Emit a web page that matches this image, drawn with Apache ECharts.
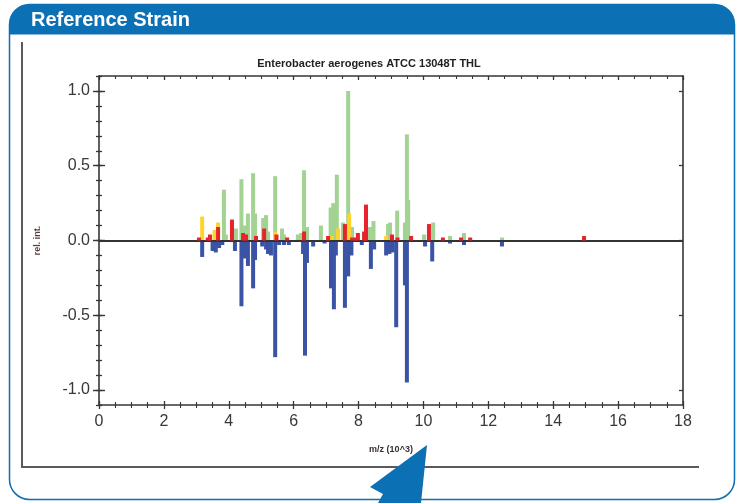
<!DOCTYPE html>
<html>
<head>
<meta charset="utf-8">
<script src="https://cdn.jsdelivr.net/npm/echarts@6/dist/echarts.min.js"></script>
<style>
html,body{margin:0;padding:0;background:#fff;}
#chart{width:737px;height:503px;}
</style>
</head>
<body>
<div id="chart"></div>
<script>
// ---- data: [m/z (x10^3), relative intensity] ----
const chartTitle = 'Enterobacter aerogenes ATCC 13048T THL';
const xTicks = [0, 2, 4, 6, 8, 10, 12, 14, 16, 18];
const yTicks = [-1.0, -0.5, 0.0, 0.5, 1.0];

const greenPeaks = [
  [3.85,0.34],[3.91,0.04],[4.22,0.08],[4.39,0.41],[4.50,0.10],[4.59,0.18],[4.75,0.45],[4.81,0.18],
  [5.06,0.15],[5.15,0.17],[5.21,0.06],[5.43,0.43],[5.64,0.08],[5.70,0.04],[6.13,0.04],[6.23,0.05],
  [6.32,0.47],[6.41,0.09],[6.84,0.10],[7.14,0.22],[7.22,0.25],[7.33,0.44],[7.52,0.12],[7.68,1.00],
  [7.80,0.09],[8.35,0.09],[8.46,0.13],[8.91,0.11],[8.97,0.12],[9.19,0.20],[9.43,0.12],[9.49,0.71],
  [9.53,0.27],[10.02,0.04],[10.30,0.12],[10.82,0.03],[11.25,0.05],[12.42,0.02]
];
const yellowPeaks = [
  [3.18,0.16],[3.56,0.07],[3.67,0.12],[5.43,0.06],[7.17,0.03],[7.37,0.08],[7.71,0.18],[8.85,0.03]
];
const redPeaks = [
  [3.08,0.02],[3.35,0.02],[3.42,0.04],[3.67,0.09],[4.10,0.14],[4.44,0.05],[4.53,0.04],[4.84,0.03],
  [5.09,0.08],[5.47,0.04],[5.80,0.02],[6.32,0.06],[7.06,0.03],[7.58,0.11],[7.80,0.02],[7.90,0.02],
  [7.98,0.05],[8.17,0.06],[8.23,0.24],[9.03,0.04],[9.20,0.02],[9.62,0.03],[10.17,0.11],[10.60,0.02],
  [11.16,0.02],[11.44,0.02],[14.95,0.03]
];
const bluePeaks = [
  [3.18,-0.11],[3.50,-0.07],[3.60,-0.08],[3.70,-0.05],[3.80,-0.03],[4.19,-0.07],[4.39,-0.44],[4.46,-0.04],
  [4.50,-0.12],[4.59,-0.17],[4.75,-0.32],[4.81,-0.13],[5.03,-0.04],[5.15,-0.06],[5.21,-0.09],[5.30,-0.10],
  [5.43,-0.78],[5.55,-0.03],[5.70,-0.03],[5.85,-0.03],[6.29,-0.09],[6.35,-0.77],[6.41,-0.15],[6.60,-0.04],
  [6.95,-0.02],[7.15,-0.32],[7.24,-0.46],[7.30,-0.10],[7.58,-0.45],[7.68,-0.24],[7.78,-0.10],[8.10,-0.03],
  [8.38,-0.19],[8.48,-0.06],[8.85,-0.10],[8.95,-0.09],[9.05,-0.08],[9.16,-0.58],[9.43,-0.30],[9.49,-0.95],
  [10.05,-0.04],[10.27,-0.14],[10.82,-0.02],[11.25,-0.03],[12.42,-0.04]
];

// ---- styling ----
const AX = '#363636';
const LBL = '#3c3636';
const FONT = 'Liberation Sans, Arial, sans-serif';
const BLUE_UI = '#0b70b4';

const chart = echarts.init(document.getElementById('chart'), null, {renderer: 'canvas'});

const gridA = {left: 99, top: 76, width: 584, height: 329};
const pxPerUnit = gridA.height / 2.2;
const gridB = {left: 99, top: gridA.top + 0.1 * pxPerUnit, width: 584, height: 2.0 * pxPerUnit};

function barSeries(name, data, color, z) {
  return {
    name, type: 'bar', data, xAxisIndex: 0, yAxisIndex: 0,
    barWidth: 4, barGap: '-100%', z,
    itemStyle: {color},
    silent: true, animation: false
  };
}

const series = [
  barSeries('blue', bluePeaks, '#3a53a5', 2),
  barSeries('green', greenPeaks, '#a2d392', 3),
  barSeries('yellow', yellowPeaks, '#ffd328', 4),
  barSeries('red', redPeaks, '#e8232b', 5)
];
series[0].markLine = {
  silent: true, symbol: 'none', label: {show: false}, animation: false,
  lineStyle: {color: '#333', width: 1.8, type: 'solid'},
  data: [{yAxis: 0}]
};

const option = {
  backgroundColor: '#fff',
  animation: false,
  title: {
    text: chartTitle, left: 364, top: 53, textAlign: 'center',
    textStyle: {fontFamily: FONT, fontSize: 11, fontWeight: 'bold', color: '#222'}
  },
  grid: [
    Object.assign({containLabel: false}, gridA),
    Object.assign({containLabel: false}, gridB)
  ],
  xAxis: [
    { // bottom, outside ticks, labels
      type: 'value', gridIndex: 0, position: 'bottom', min: xTicks[0], max: xTicks[xTicks.length-1], interval: 2,
      axisLine: {show: true, onZero: false, lineStyle: {color: AX, width: 1.6}},
      axisTick: {show: true, length: 4, lineStyle: {color: AX, width: 1.3}},
      minorTick: {show: true, splitNumber: 4, length: 3, lineStyle: {color: AX, width: 1.1}},
      axisLabel: {show: true, margin: 9, fontFamily: FONT, fontSize: 16, color: LBL},
      splitLine: {show: false},
      name: 'm/z (10^3)', nameLocation: 'middle', nameGap: 40,
      nameTextStyle: {fontFamily: FONT, fontSize: 9, fontWeight: 'bold', color: '#3a3030'}
    },
    { // bottom, inside ticks
      type: 'value', gridIndex: 0, position: 'bottom', min: 0, max: 18, interval: 2,
      axisLine: {show: false, onZero: false},
      axisTick: {show: true, inside: true, length: 4, lineStyle: {color: AX, width: 1.3}},
      minorTick: {show: true, splitNumber: 4, length: 3, lineStyle: {color: AX, width: 1.1}},
      axisLabel: {show: false}, splitLine: {show: false}
    },
    { // top frame
      type: 'value', gridIndex: 0, position: 'top', min: 0, max: 18, interval: 2,
      axisLine: {show: true, onZero: false, lineStyle: {color: AX, width: 1.6}},
      axisTick: {show: true, inside: true, length: 4, lineStyle: {color: AX, width: 1.3}},
      minorTick: {show: true, splitNumber: 4, length: 3, lineStyle: {color: AX, width: 1.1}},
      axisLabel: {show: false}, splitLine: {show: false}
    },
    { // helper for grid B
      type: 'value', gridIndex: 1, min: 0, max: 18, show: false
    }
  ],
  yAxis: [
    { // minor ticks outside + left line
      type: 'value', gridIndex: 0, position: 'left', min: -1.1, max: 1.1, interval: 0.1,
      axisLine: {show: true, onZero: false, lineStyle: {color: AX, width: 1.6}},
      axisTick: {show: true, length: 3, lineStyle: {color: AX, width: 1.3}},
      axisLabel: {show: false}, splitLine: {show: false}
    },
    { // minor ticks inside
      type: 'value', gridIndex: 0, position: 'left', min: -1.1, max: 1.1, interval: 0.1,
      axisLine: {show: false, onZero: false},
      axisTick: {show: true, inside: true, length: 3, lineStyle: {color: AX, width: 1.3}},
      axisLabel: {show: false}, splitLine: {show: false}
    },
    { // right frame line
      type: 'value', gridIndex: 0, position: 'right', min: -1.1, max: 1.1, interval: 0.1,
      axisLine: {show: true, onZero: false, lineStyle: {color: AX, width: 1.6}},
      axisTick: {show: false}, axisLabel: {show: false}, splitLine: {show: false}
    },
    { // major ticks outside + labels
      type: 'value', gridIndex: 1, position: 'left', min: yTicks[0], max: yTicks[yTicks.length-1], interval: 0.5,
      axisLine: {show: false, onZero: false},
      axisTick: {show: true, length: 6, lineStyle: {color: AX, width: 1.4}},
      axisLabel: {show: true, margin: 9, fontFamily: FONT, fontSize: 16, color: LBL,
        formatter: v => (Math.abs(v) < 1e-9 ? 0 : v).toFixed(1)},
      splitLine: {show: false},
      name: 'rel. int.', nameLocation: 'middle', nameGap: 57, nameRotate: 90,
      nameTextStyle: {fontFamily: FONT, fontSize: 9, fontWeight: 'bold', color: '#5a3e36'}
    },
    { // major ticks inside
      type: 'value', gridIndex: 1, position: 'left', min: -1, max: 1, interval: 0.5,
      axisLine: {show: false, onZero: false},
      axisTick: {show: true, inside: true, length: 6, lineStyle: {color: AX, width: 1.4}},
      axisLabel: {show: false}, splitLine: {show: false}
    },
    { // right major ticks inside
      type: 'value', gridIndex: 1, position: 'right', min: -1, max: 1, interval: 0.5,
      axisLine: {show: false, onZero: false},
      axisTick: {show: true, inside: true, length: 4, lineStyle: {color: AX, width: 1.3}},
      axisLabel: {show: false}, splitLine: {show: false}
    }
  ],
  graphic: [
    { type: 'rect', z: -20, silent: true,
      shape: {x: 9.5, y: 4.5, width: 725, height: 495, r: 20},
      style: {fill: '#fff', stroke: BLUE_UI, lineWidth: 1.5} },
    { type: 'rect', z: -19, silent: true,
      shape: {x: 9.5, y: 4.5, width: 725, height: 30, r: [20, 20, 0, 0]},
      style: {fill: BLUE_UI} },
    { type: 'text', z: -18, silent: true, x: 31, y: 20,
      style: {text: 'Reference Strain', fill: '#fff', font: 'bold 20px ' + FONT, textVerticalAlign: 'middle'} },
    { type: 'polyline', z: -18, silent: true,
      shape: {points: [[22, 42], [22, 467], [699, 467]]},
      style: {stroke: '#5a5a5a', lineWidth: 2, fill: null} },
    { type: 'polygon', z: 100, silent: true,
      shape: {points: [[427, 445], [421, 503], [378, 503], [383, 494], [370, 487]]},
      style: {fill: BLUE_UI} }
  ],
  series
};

chart.setOption(option);
</script>
</body>
</html>
